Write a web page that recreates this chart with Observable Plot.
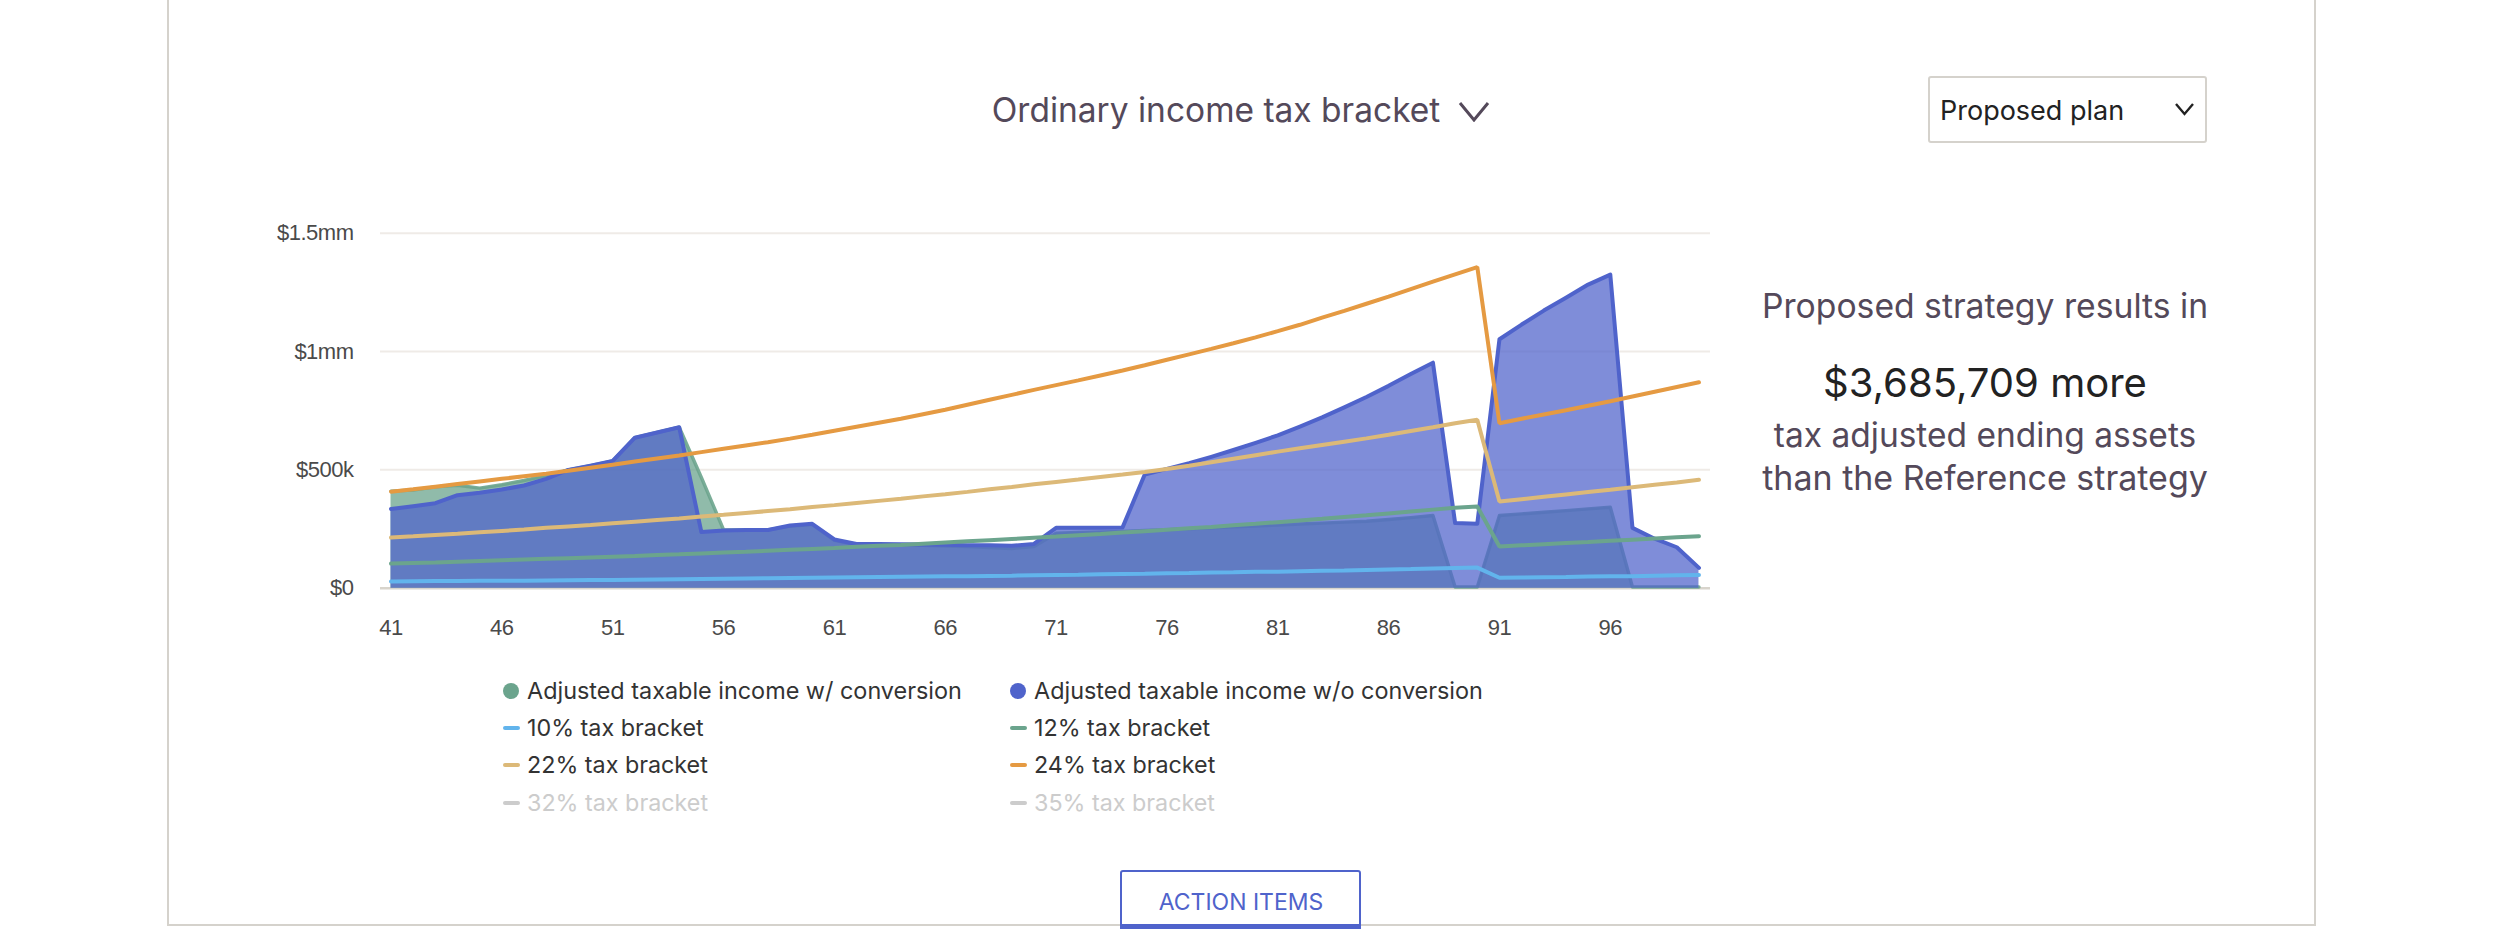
<!DOCTYPE html>
<html>
<head>
<meta charset="utf-8">
<script src="https://cdn.jsdelivr.net/npm/d3@7"></script>
<script src="https://cdn.jsdelivr.net/npm/@observablehq/plot@0.6"></script>
<style>
html,body{margin:0;padding:0;background:#fff;width:2500px;height:929px;overflow:hidden}
#page{position:relative;width:2500px;height:929px;font-family:Inter,sans-serif}
#chart{position:absolute;left:0;top:0}
.abs{position:absolute;white-space:nowrap;line-height:1}
.ctr{transform:translate(-50%,-50%)}
.card{position:absolute;left:167px;top:-4px;width:2145px;height:928px;border:2px solid #d5d2cc;border-top:0;box-sizing:content-box}
.mid{transform:translateY(-50%)}
</style>
</head>
<body>
<div id="page">
  <div class="card"></div>
  <div id="chart"></div>
</div>
<script>
const ages = d3.range(41, 101);
// every value in $ thousands
const withConversion = [410,415,428,435,423,437,455,476,500,518,538,636,658,680,468,247,246,246,262,270,202,183,183,182,181,178,176,172,168,176,232,236,238,240,244,247,251,255,259,263,267,271,275,279,283,290,298,307,5,5,307,314,321,328,335,342,5,5,5,5];
const withoutConversion = [335,346,359,393,403,417,434,462,500,518,538,636,658,680,237,244,246,246,265,272,206,187,187,186,185,184,182,181,179,187,255,255,255,257,480,504,528,555,584,614,646,683,722,764,808,855,905,953,275,272,1052,1114,1173,1227,1283,1325,255,209,173,86];
const bracket10 = [28,29,30,30,31,32,32,33,34,35,35,36,37,38,39,40,41,42,43,44,45,46,47,48,49,50,51,52,53,55,56,57,59,60,61,63,64,66,67,69,70,72,74,75,77,79,81,83,85,87,44,45,46,47,49,50,51,53,55,56];
const bracket12 = [104,107,109,112,115,118,121,124,127,130,133,136,140,143,147,151,154,158,162,166,170,175,179,183,188,193,198,203,208,213,218,224,229,235,241,247,253,259,266,272,279,286,293,301,308,316,324,332,340,345,176,181,186,191,195,200,205,210,215,220];
const bracket22 = [214,219,225,230,236,242,248,255,261,267,274,281,288,295,303,310,318,326,334,343,351,360,369,378,388,397,407,418,428,439,449,459,470,480,491,504,517,532,547,562,577,591,605,619,633,648,664,680,697,712,366,376,386,396,406,416,427,437,447,458];
const bracket24 = [408,418,429,440,451,462,473,484,496,509,522,535,548,561,575,589,603,617,632,648,665,682,699,716,735,754,775,796,817,838,858,878,899,920,942,965,988,1011,1035,1060,1086,1113,1143,1172,1202,1232,1264,1295,1326,1357,697,716,734,752,771,790,810,830,850,870];

const xTicks = [41,46,51,56,61,66,71,76,81,86,91,96];
const yTicks = [0,500,1000,1500];
const yLabels = ["$0","$500k","$1mm","$1.5mm"];

const title = "Ordinary income tax bracket";
const planLabel = "Proposed plan";
const resultLines = ["Proposed strategy results in","$3,685,709 more","tax adjusted ending assets","than the Reference strategy"];
const actionLabel = "ACTION ITEMS";
const legendRows = [
  [["Adjusted taxable income w/ conversion","dot","#6ba48d","#333"],["Adjusted taxable income w/o conversion","dot","#4f63cb","#333"]],
  [["10% tax bracket","dash","#62b4ec","#333"],["12% tax bracket","dash","#6ba48d","#333"]],
  [["22% tax bracket","dash","#dcb978","#333"],["24% tax bracket","dash","#e59a42","#333"]],
  [["32% tax bracket","dash","#cccccc","#cccccc"],["35% tax bracket","dash","#cccccc","#cccccc"]]
];

const C = {green:"#6ba48d",blue:"#4f63cb",b10:"#62b4ec",b12:"#6ba48d",b22:"#dcb978",b24:"#e59a42"};
const tbl = arr => ages.map((a,i)=>({age:a,v:arr[i]}));
const lineOpts = s => ({x:"age",y:"v",stroke:s,strokeWidth:4,strokeLinejoin:"miter"});

const plot = Plot.plot({
  width:2500, height:929,
  marginLeft:380, marginRight:790, marginTop:232.7, marginBottom:341.3,
  style:{background:"transparent",overflow:"visible",letterSpacing:"-0.5px"},
  x:{type:"linear",domain:[40.526,100.52]},
  y:{domain:[0,1500]},
  marks:[
    Plot.ruleY(yTicks.slice(1),{stroke:"#efebe7",strokeWidth:2}),
    Plot.ruleY([0],{stroke:"#d8d4cc",strokeWidth:2.5}),
    Plot.areaY(tbl(withConversion),{x:"age",y:"v",fill:C.green,fillOpacity:0.75}),
    Plot.line(tbl(withConversion),{x:"age",y:"v",stroke:C.green,strokeWidth:3.4,strokeOpacity:0.9}),
    Plot.areaY(tbl(withoutConversion),{x:"age",y:"v",fill:C.blue,fillOpacity:0.73}),
    Plot.line(tbl(withoutConversion),{x:"age",y:"v",stroke:C.blue,strokeWidth:4}),
    Plot.line(tbl(bracket22),lineOpts(C.b22)),
    Plot.line(tbl(bracket12),lineOpts(C.b12)),
    Plot.line(tbl(bracket24),lineOpts(C.b24)),
    Plot.line(tbl(bracket10),lineOpts(C.b10)),
    Plot.axisX({ticks:xTicks,tickSize:0,tickPadding:31,tickFormat:d=>String(d),label:null,
      fontSize:22,fontFamily:"Liberation Sans",color:"#4a4a4a",fill:"#4a4a4a"}),
    Plot.axisY({ticks:yTicks,tickSize:0,tickPadding:27,tickFormat:d=>yLabels[yTicks.indexOf(d)],label:null,
      fontSize:22,fontFamily:"Liberation Sans",color:"#4a4a4a",fill:"#4a4a4a"})
  ]
});
document.getElementById("chart").appendChild(plot);

const page = document.getElementById("page");
function text(str,x,y,size,color,cls,extra){
  const d=document.createElement("div");
  d.className="abs "+cls; d.textContent=str;
  d.style.left=x+"px"; d.style.top=y+"px"; d.style.fontSize=size+"px"; d.style.color=color;
  if(extra) Object.assign(d.style,extra);
  page.appendChild(d); return d;
}
function chevron(x,y,w,h,color,sw){
  const ns="http://www.w3.org/2000/svg";
  const s=document.createElementNS(ns,"svg");
  s.setAttribute("width",w+4);s.setAttribute("height",h+4);
  s.style.cssText=`position:absolute;left:${x-2}px;top:${y-2}px`;
  const p=document.createElementNS(ns,"path");
  p.setAttribute("d",`M2 2L${2+w/2} ${2+h}L${2+w} 2`);
  p.setAttribute("fill","none");p.setAttribute("stroke",color);p.setAttribute("stroke-width",sw);
  s.appendChild(p);page.appendChild(s);
}
// title
text(title,1216,111,33.5,"#54495a","ctr");
chevron(1460,103,28,17,"#54495a",3);
// plan select
const box=document.createElement("div");
box.style.cssText="position:absolute;left:1928px;top:76px;width:279px;height:67px;border:2px solid #d5d2cc;border-radius:3px;box-sizing:border-box;background:#fff";
page.appendChild(box);
text(planLabel,1940,110,27,"#222","mid");
chevron(2176,104,17,10,"#222",2.4);
// right-hand result text
text(resultLines[0],1985,306,33.7,"#54495a","ctr");
text(resultLines[1],1985,383,40,"#222","ctr");
text(resultLines[2],1985,436,33.5,"#54495a","ctr");
text(resultLines[3],1985,478,34,"#54495a","ctr");
// legend
const rowY=[691,728,765,803], colMark=[503,1010], colText=[527,1034];
legendRows.forEach((row,r)=>row.forEach((it,c)=>{
  const [label,kind,col,tcol]=it;
  const m=document.createElement("div");
  if(kind==="dot") m.style.cssText=`position:absolute;left:${colMark[c]}px;top:${rowY[r]-8}px;width:16px;height:16px;border-radius:50%;background:${col}`;
  else m.style.cssText=`position:absolute;left:${colMark[c]}px;top:${rowY[r]-2}px;width:17px;height:4px;border-radius:2px;background:${col}`;
  page.appendChild(m);
  text(label,colText[c],rowY[r],r===0?23.4:23.3,tcol,"mid");
}));
// action button
const btn=document.createElement("div");
btn.style.cssText="position:absolute;left:1120px;top:870px;width:241px;height:59px;background:#fff;border:2px solid #4f63cb;border-bottom:5px solid #4f63cb;border-radius:3px 3px 0 0;box-sizing:border-box";
page.appendChild(btn);
text(actionLabel,1241,902,23,"#4f63cb","ctr");
</script>
</body>
</html>
